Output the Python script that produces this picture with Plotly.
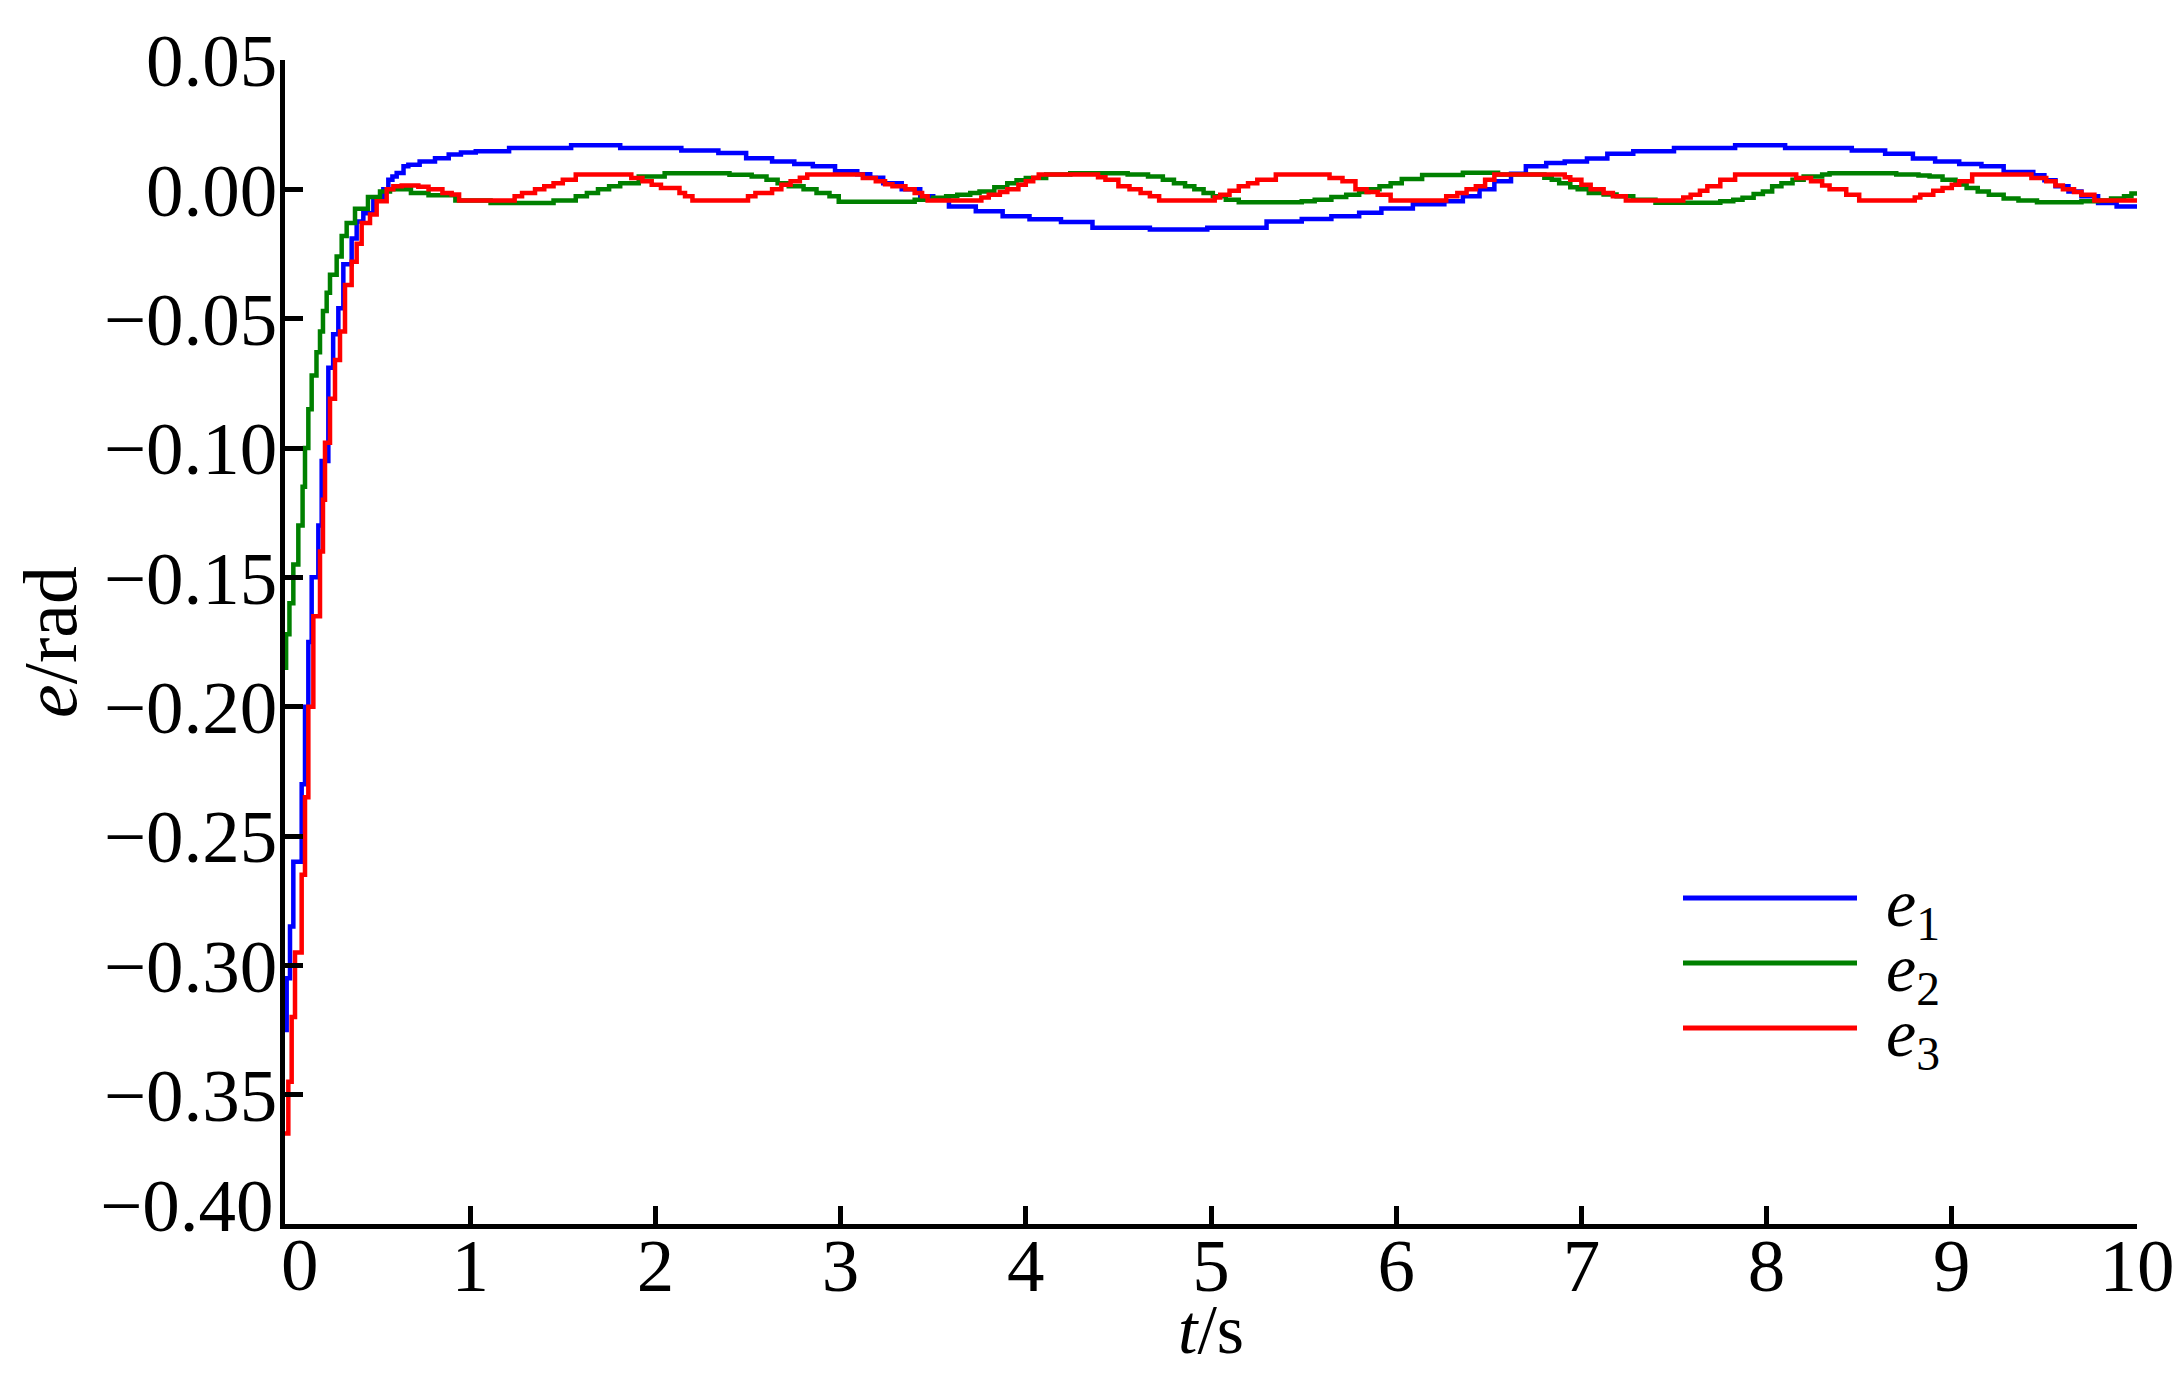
import plotly.graph_objects as go

# ---------------- data ----------------
t_e1 = [0, 0.009, 0.027, 0.045, 0.09, 0.108, 0.126, 0.144, 0.18, 0.198,
        0.234, 0.26, 0.288, 0.315, 0.36, 0.387, 0.423, 0.477, 0.531, 0.558,
        0.58, 0.603, 0.64, 0.666, 0.727, 0.81, 0.884, 0.95, 1.03, 1.21,
        1.545, 1.81, 2.14, 2.34, 2.49, 2.63, 2.75, 2.85, 2.97, 3.09,
        3.16, 3.23, 3.33, 3.43, 3.50, 3.585, 3.73, 3.875, 4.02, 4.19,
        4.36, 4.67, 4.98, 5.30, 5.49, 5.65, 5.80, 5.92, 6.09, 6.26,
        6.36, 6.45, 6.53, 6.62, 6.70, 6.81, 6.91, 7.03, 7.14, 7.28,
        7.50, 7.83, 8.10, 8.46, 8.64, 8.79, 8.91, 9.04, 9.16, 9.28,
        9.44, 9.50, 9.56, 9.63, 9.70, 9.79, 9.89, 10.0]
e1 = [-0.325, -0.305, -0.285, -0.26, -0.23, -0.2, -0.175, -0.15, -0.13, -0.105,
      -0.069, -0.056, -0.046, -0.029, -0.019, -0.0124, -0.0092, -0.0034, 0.0, 0.0037,
      0.005, 0.0063, 0.0089, 0.0095, 0.0108, 0.012, 0.0135, 0.0142, 0.0147, 0.016,
      0.017, 0.016, 0.015, 0.014, 0.012, 0.0108, 0.0098, 0.0089, 0.007, 0.0058,
      0.0045, 0.0024, 0.0, -0.0027, -0.004, -0.0066, -0.0085, -0.0104, -0.0116, -0.0126,
      -0.0149, -0.0155, -0.0149, -0.0124, -0.0115, -0.0104, -0.0091, -0.0074, -0.0058, -0.0046,
      -0.0027, 0.0, 0.0031, 0.006, 0.0089, 0.0102, 0.0108, 0.0119, 0.0138, 0.0147,
      0.016, 0.017, 0.016, 0.015, 0.0138, 0.0119, 0.0108, 0.0098, 0.0089, 0.0067,
      0.0054, 0.0035, 0.0012, -0.0008, -0.0027, -0.0053, -0.0066, -0.0075]

t_e2 = [0, 0.006, 0.024, 0.045, 0.072, 0.095, 0.108, 0.126, 0.144, 0.17,
        0.189, 0.205, 0.225, 0.243, 0.279, 0.306, 0.333, 0.378, 0.448, 0.513,
        0.567, 0.68, 0.775, 0.92, 1.11, 1.45, 1.57, 1.63, 1.69, 1.75,
        1.81, 1.91, 2.05, 2.40, 2.52, 2.60, 2.66, 2.72, 2.80, 2.87,
        2.94, 2.99, 3.40, 3.50, 3.57, 3.63, 3.70, 3.75, 3.83, 3.90,
        3.95, 4.00, 4.11, 4.24, 4.55, 4.66, 4.74, 4.80, 4.86, 4.91,
        4.96, 5.01, 5.08, 5.15, 5.49, 5.56, 5.65, 5.73, 5.80, 5.85,
        5.91, 5.97, 6.03, 6.14, 6.36, 6.55, 6.80, 6.84, 6.88, 6.94,
        6.98, 7.04, 7.12, 7.19, 7.28, 7.40, 7.75, 7.82, 7.87, 7.93,
        7.98, 8.03, 8.08, 8.14, 8.20, 8.30, 8.34, 8.70, 8.82, 8.88,
        8.95, 9.02, 9.08, 9.14, 9.20, 9.28, 9.36, 9.46, 9.70, 9.79,
        9.86, 9.93, 9.97, 10.0]
e2 = [-0.185, -0.172, -0.16, -0.145, -0.13, -0.115, -0.1, -0.085, -0.072, -0.063,
      -0.055, -0.047, -0.04, -0.033, -0.026, -0.018, -0.013, -0.0075, -0.003, -0.0008,
      0.0, -0.0014, -0.0023, -0.0043, -0.0053, -0.0043, -0.0027, -0.0014, 0.0, 0.0012,
      0.0024, 0.005, 0.0062, 0.0056, 0.005, 0.0037, 0.0024, 0.0012, 0.0, -0.0014,
      -0.0027, -0.0048, -0.004, -0.0033, -0.0027, -0.0021, -0.0014, -0.0008, 0.0008, 0.0024,
      0.0035, 0.0044, 0.0057, 0.0062, 0.0057, 0.005, 0.0037, 0.0024, 0.0012, 0.0,
      -0.0014, -0.0027, -0.004, -0.005, -0.0046, -0.004, -0.003, -0.0021, -0.001, 0.0,
      0.0012, 0.0024, 0.004, 0.0055, 0.0064, 0.0057, 0.0045, 0.0037, 0.0024, 0.0008,
      0.0, -0.0014, -0.002, -0.0027, -0.004, -0.0052, -0.0046, -0.004, -0.0033, -0.0018,
      -0.0008, 0.0012, 0.0024, 0.0037, 0.005, 0.0057, 0.0062, 0.0057, 0.0053, 0.005,
      0.0037, 0.0019, 0.0005, -0.0008, -0.0021, -0.0035, -0.0043, -0.005, -0.0046, -0.0043,
      -0.0035, -0.0027, -0.0016, -0.0016]

t_e3 = [0, 0.018, 0.036, 0.054, 0.09, 0.108, 0.126, 0.153, 0.189, 0.205,
        0.216, 0.243, 0.27, 0.297, 0.324, 0.36, 0.387, 0.414, 0.459, 0.495,
        0.549, 0.585, 0.63, 0.72, 0.775, 0.85, 0.90, 0.94, 1.24, 1.28,
        1.35, 1.40, 1.45, 1.50, 1.57, 1.87, 1.93, 1.98, 2.03, 2.13,
        2.16, 2.20, 2.50, 2.54, 2.63, 2.68, 2.73, 2.78, 2.82, 3.12,
        3.19, 3.24, 3.28, 3.35, 3.40, 3.44, 3.47, 3.76, 3.80, 3.86,
        3.90, 3.96, 4.00, 4.04, 4.07, 4.39, 4.43, 4.50, 4.56, 4.62,
        4.67, 4.72, 5.02, 5.05, 5.10, 5.15, 5.20, 5.25, 5.35, 5.64,
        5.71, 5.78, 5.84, 5.90, 5.97, 6.27, 6.33, 6.38, 6.43, 6.48,
        6.53, 6.91, 6.94, 7.00, 7.05, 7.12, 7.17, 7.24, 7.55, 7.59,
        7.64, 7.68, 7.75, 7.83, 8.16, 8.24, 8.30, 8.34, 8.43, 8.50,
        8.80, 8.83, 8.90, 8.95, 9.00, 9.04, 9.11, 9.43, 9.51, 9.56,
        9.60, 9.66, 9.70, 9.77, 10.0]
e3 = [-0.365, -0.345, -0.32, -0.295, -0.265, -0.235, -0.2, -0.165, -0.14, -0.12,
      -0.098, -0.081, -0.066, -0.055, -0.037, -0.028, -0.021, -0.013, -0.0097, -0.0046,
      0.0, 0.0012, 0.0015, 0.001, 0.0, -0.0014, -0.002, -0.0043, -0.0027, -0.0014,
      0.0, 0.0012, 0.0024, 0.0037, 0.0057, 0.0044, 0.0031, 0.0018, 0.0005, -0.0014,
      -0.0027, -0.0043, -0.0027, -0.0014, 0.0, 0.0018, 0.0031, 0.0045, 0.0057, 0.0044,
      0.0031, 0.002, 0.0012, 0.0, -0.0014, -0.0027, -0.0043, -0.0032, -0.0021, -0.001,
      0.0, 0.0018, 0.0031, 0.0045, 0.0057, 0.0047, 0.0037, 0.0012, 0.0, -0.0014,
      -0.0027, -0.0043, -0.0032, -0.0021, -0.0005, 0.0012, 0.0024, 0.0037, 0.0057, 0.0044,
      0.0031, 0.0, -0.001, -0.0021, -0.0043, -0.0027, -0.0014, 0.0, 0.0012, 0.0037,
      0.0057, 0.0047, 0.0037, 0.0018, 0.0, -0.0014, -0.0027, -0.0043, -0.0032, -0.0021,
      -0.0005, 0.0012, 0.0037, 0.0057, 0.0044, 0.0031, 0.0015, 0.0, -0.0021, -0.0043,
      -0.0032, -0.0021, -0.0005, 0.0005, 0.0018, 0.0031, 0.0057, 0.0044, 0.0031, 0.0015,
      0.0, -0.001, -0.0021, -0.0043, -0.0043]

series_names = ["<i>e</i><sub>1</sub>", "<i>e</i><sub>2</sub>", "<i>e</i><sub>3</sub>"]
series_colors = ["#0000FF", "#008000", "#FF0000"]

x_ticks = [0, 1, 2, 3, 4, 5, 6, 7, 8, 9, 10]
x_ticktext = ["0", "1", "2", "3", "4", "5", "6", "7", "8", "9", "10"]
y_ticks = [0.05, 0.00, -0.05, -0.10, -0.15, -0.20, -0.25, -0.30, -0.35, -0.40]
y_ticktext = ["0.05", "0.00", "\u22120.05", "\u22120.10", "\u22120.15", "\u22120.20",
              "\u22120.25", "\u22120.30", "\u22120.35", "\u22120.40"]

# ---------------- figure ----------------
FONT = "Liberation Serif, Times New Roman, serif"
# the page body has an 8 px margin; size the figure so it fits the window
W, H = 2164, 1360
L, R, T, B = 277, 35, 52, 144
plot_w = W - L - R
plot_h = H - T - B
OFF = 8  # page offset of the figure
TICK_SIZE = 75

fig = go.Figure()
for tt, vv, nm, col in zip([t_e1, t_e2, t_e3], [e1, e2, e3], series_names, series_colors):
    fig.add_trace(go.Scatter(x=tt, y=vv, mode="lines", name=nm,
                             line=dict(color=col, width=4.5, shape="hv"),
                             showlegend=False))

# manual legend (long swatches as in the reference); positions in page pixels
plot_left_pg = L + OFF
plot_bottom_pg = H - B + OFF
leg_rows_pg = [898, 963, 1028]
lx0 = (1683 - plot_left_pg) / plot_w
lx1 = (1857 - plot_left_pg) / plot_w
tx = (1884 - plot_left_pg) / plot_w
for ypx, nm, col in zip(leg_rows_pg, series_names, series_colors):
    yp = (plot_bottom_pg - ypx) / plot_h
    fig.add_shape(type="line", xref="paper", yref="paper", x0=lx0, x1=lx1, y0=yp, y1=yp,
                  line=dict(color=col, width=5))
    fig.add_annotation(xref="paper", yref="paper", x=tx, y=yp, text=nm, showarrow=False,
                       xanchor="left", yanchor="middle", yshift=-9,
                       font=dict(family=FONT, size=68, color="black"))

# the two corner tick labels are nudged apart, as in the reference
fig.add_annotation(xref="x", yref="paper", x=x_ticks[0], y=0, text=x_ticktext[0],
                   showarrow=False, xanchor="center", yanchor="middle",
                   xshift=15, yshift=-40,
                   font=dict(family=FONT, size=TICK_SIZE, color="black"))
fig.add_annotation(xref="paper", yref="y", x=0, y=y_ticks[-1], text=y_ticktext[-1],
                   showarrow=False, xanchor="right", yanchor="middle",
                   xshift=-9, yshift=19,
                   font=dict(family=FONT, size=TICK_SIZE, color="black"))
x_ticktext_axis = [""] + x_ticktext[1:]
y_ticktext_axis = y_ticktext[:-1] + [""]

axis_common = dict(showline=True, linecolor="black", linewidth=4.5, ticks="inside",
                   ticklen=18, tickwidth=4.5, tickcolor="black", showgrid=False,
                   zeroline=False, automargin=False, ticklabeloverflow="allow",
                   tickfont=dict(family=FONT, size=TICK_SIZE, color="black"))

fig.update_layout(
    width=W, height=H, template=None,
    paper_bgcolor="white", plot_bgcolor="white",
    margin=dict(l=L, r=R, t=T, b=B, pad=0),
    font=dict(family=FONT, color="black"),
    xaxis=dict(range=[0, 10], tickvals=x_ticks, ticktext=x_ticktext_axis,
               ticklabelstandoff=-28,
               title=dict(text="<i>t</i>/s", font=dict(family=FONT, size=70), standoff=42),
               **axis_common),
    yaxis=dict(range=[-0.40, 0.05], tickvals=y_ticks, ticktext=y_ticktext_axis,
               ticklabelstandoff=-12,
               title=dict(text="<i>e</i>/rad", font=dict(family=FONT, size=76), standoff=6),
               **axis_common),
)

fig.write_html("out.html")
